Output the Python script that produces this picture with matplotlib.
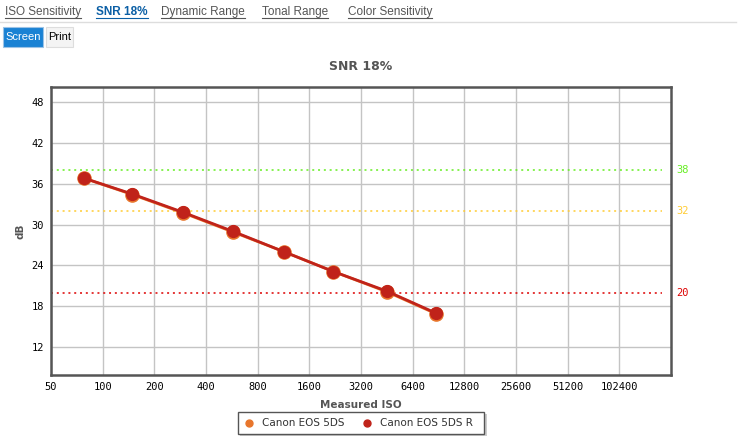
import numpy as np
import matplotlib
matplotlib.use('Agg')
import matplotlib.pyplot as plt
from matplotlib.patches import Rectangle

#=============================
# Data
#=============================
iso_5ds = [78, 149, 295, 575, 1140, 2210, 4550, 8750]
snr_5ds = [36.8, 34.4, 31.7, 28.9, 26.0, 23.1, 20.1, 16.9]
iso_5dsr = [78, 148, 294, 574, 1139, 2208, 4545, 8730]
snr_5dsr = [36.8, 34.5, 31.8, 29.0, 26.0, 23.1, 20.2, 17.0]

xtick_vals = [50, 100, 200, 400, 800, 1600, 3200, 6400, 12800, 25600, 51200, 102400]
ytick_vals = [12, 18, 24, 30, 36, 42, 48]
ref_levels = [38, 32, 20]
ref_colors = ['#66ee22', '#ffcc33', '#dd0000']

nav_items = ['ISO Sensitivity', 'SNR 18%', 'Dynamic Range', 'Tonal Range', 'Color Sensitivity']
nav_x = [5, 96, 161, 262, 348]

W, H = 741, 442
fig = plt.figure(figsize=(W / 100, H / 100), dpi=100)

def px(x, y):
    return x / W, 1 - y / H

#=============================
# page header
#=============================
for i, (txt, x) in enumerate(zip(nav_items, nav_x)):
    bold = (i == 1)
    col = '#0b5fa5' if bold else '#555555'
    fig.text(*px(x, 12), txt, fontsize=8.5, color=col, va='center', ha='left',
             family='Liberation Sans', fontweight='bold' if bold else 'normal')
# underlines
fig.canvas.draw()
r = fig.canvas.get_renderer()
for t in fig.texts:
    bb = t.get_window_extent(r)
    fig.add_artist(plt.Line2D([bb.x0 / W, bb.x1 / W], [bb.y0 / H - 0.001] * 2,
                              color=t.get_color(), lw=0.8, transform=fig.transFigure))
fig.add_artist(plt.Line2D([0, 736 / W], [1 - 21.5 / H] * 2, color='#dddddd', lw=1,
                          transform=fig.transFigure))

fig.add_artist(Rectangle(px(3, 47), 40 / W, 20 / H, facecolor='#1a82d4',
                         edgecolor='#9cc3e6', lw=0.8, transform=fig.transFigure))
fig.text(*px(23, 37), 'Screen', fontsize=8, color='white', ha='center', va='center',
         family='Liberation Sans')
fig.add_artist(Rectangle(px(46, 47), 27 / W, 20 / H, facecolor='#f4f4f4',
                         edgecolor='#dddddd', lw=0.8, transform=fig.transFigure))
fig.text(*px(59.5, 37), 'Print', fontsize=8, color='black', ha='center', va='center',
         family='Liberation Sans')

#=============================
# chart
#=============================
left, top, right, bottom = 51, 87, 671, 375
ax = fig.add_axes([left / W, 1 - bottom / H, (right - left) / W, (bottom - top) / H])
ax.set_xscale('log', base=2)
ax.set_xlim(50, 204800)
ax.set_ylim(7.9, 50.2)

ax.set_xticks(xtick_vals)
ax.set_xticklabels([str(v) for v in xtick_vals])
ax.set_xticks([], minor=True)
ax.set_yticks(ytick_vals)
ax.set_yticklabels([str(v) for v in ytick_vals])
ax.tick_params(length=0, labelsize=7.5, pad=5, labelcolor='black')
for lab in ax.get_xticklabels() + ax.get_yticklabels():
    lab.set_family('DejaVu Sans Mono')
ax.grid(True, color='#c4c4c4', lw=1)
ax.set_axisbelow(True)
for s in ax.spines.values():
    s.set_color('#555555')
    s.set_linewidth(1.8)

for lvl, c in zip(ref_levels, ref_colors):
    ax.axhline(lvl, xmax=0.985, color=c, lw=1.1, ls=(0, (1.3, 2.5)))
    ax.text(1.008, lvl, str(lvl), transform=ax.get_yaxis_transform(), color=c,
            fontsize=7.5, family='DejaVu Sans Mono', va='center', ha='left')

ax.plot(iso_5ds, snr_5ds, '-o', color='#e8762c', ms=9.5, lw=2, mec='#e8762c', zorder=3)
ax.plot(iso_5dsr, snr_5dsr, '-o', color='#c0231a', ms=8.5, lw=2, mec='#c0231a', zorder=4)

ax.set_title('SNR 18%', fontsize=9, color='#555555', fontweight='bold', pad=12,
             family='DejaVu Sans')
ax.set_xlabel('Measured ISO', fontsize=7.5, color='#555555', fontweight='bold', labelpad=6)
ax.set_ylabel('dB', fontsize=7.5, color='#555555', fontweight='bold', labelpad=4)

#=============================
# legend
#=============================
fig.add_artist(Rectangle(px(240, 436), 247 / W, 22 / H, facecolor='#cccccc',
                         edgecolor='none', transform=fig.transFigure))
fig.add_artist(Rectangle(px(238, 434), 246 / W, 22 / H, facecolor='white',
                         edgecolor='#555555', lw=1, transform=fig.transFigure))
fig.add_artist(plt.Line2D([249 / W], [1 - 423 / H], marker='o', ms=5, color='#e8762c',
                          transform=fig.transFigure))
fig.add_artist(plt.Line2D([367 / W], [1 - 423 / H], marker='o', ms=5, color='#c0231a',
                          transform=fig.transFigure))
fig.text(*px(262, 423.5), 'Canon EOS 5DS', fontsize=7.5, color='#333333', va='center',
         family='DejaVu Sans')
fig.text(*px(380, 423.5), 'Canon EOS 5DS R', fontsize=7.5, color='#333333', va='center',
         family='DejaVu Sans')

plt.savefig('out.png', dpi=100)
